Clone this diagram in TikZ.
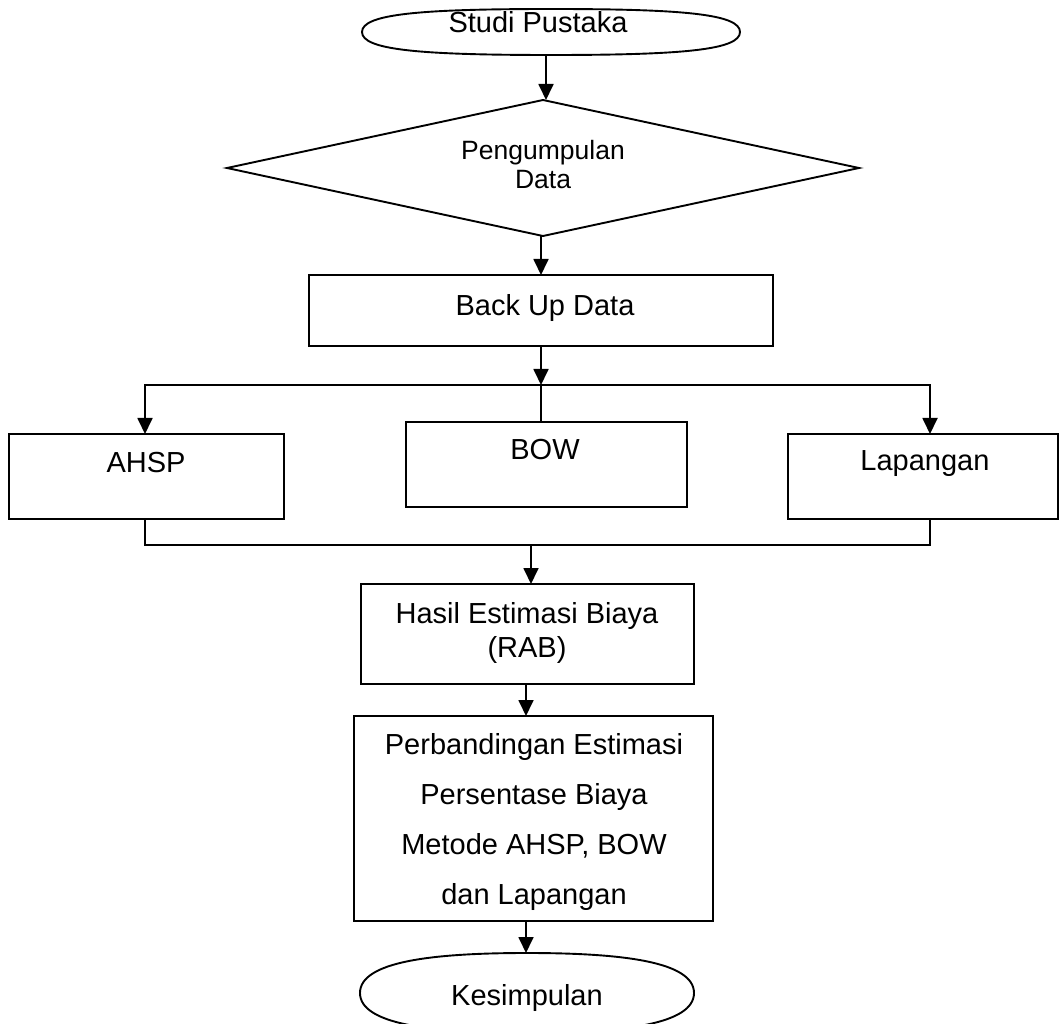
\documentclass[tikz,border=0pt]{standalone}
\usepackage{fontspec}
\setmainfont{Liberation Sans}
\usetikzlibrary{arrows.meta}
\begin{document}
\begin{tikzpicture}[x=1pt,y=-1pt,
  box/.style={draw, rectangle, inner sep=0pt, outer sep=0pt, line width=1.9pt},
  outline/.style={draw, line width=1.9pt},
  txt/.style={font=\fontsize{29}{35}\selectfont, inner sep=0pt, anchor=base},
  stxt/.style={font=\fontsize{26.5}{29}\selectfont, inner sep=0pt, anchor=base},
  conn/.style={line width=1.8pt},
  arr/.style={conn, -{Triangle[width=15pt,length=16pt]}}]
\useasboundingbox[fill=white] (0,0) rectangle (1061,1024);

% start terminator
\draw[outline] (362,32) .. controls (362,14) and (420,9) .. (551,9)
  .. controls (682,9) and (740,14) .. (740,32)
  .. controls (740,50) and (682,55) .. (551,55)
  .. controls (420,55) and (362,50) .. (362,32) -- cycle;
\node[txt] (studi) at (538,33) {Studi Pustaka};
\coordinate (spS) at (546,55);

% diamond
\draw[outline] (227,168) -- (543,100) -- (859,168) -- (543,236) -- cycle;
\coordinate (dN) at (546,100);
\coordinate (dS) at (541,236);
\node[stxt] (peng1) at (543,160) {Pengumpulan};
\node[stxt] (peng2) at (543,189) {Data};

% boxes
\node[box, minimum width=464pt, minimum height=71pt] (backup) at (541,310.5) {};
\node[txt] (backupt) at (545,316) {Back Up Data};

\node[box, minimum width=275pt, minimum height=85pt] (ahsp) at (146.5,476.5) {};
\node[txt] (ahspt) at (146,472) {AHSP};
\node[box, minimum width=281pt, minimum height=85pt] (bow) at (546.5,464.5) {};
\node[txt] (bowt) at (545,460) {BOW};
\node[box, minimum width=270pt, minimum height=85pt] (lap) at (923,476.5) {};
\node[txt] (lapt) at (925,470) {Lapangan};

\node[box, minimum width=333pt, minimum height=100pt] (hasil) at (527.5,634) {};
\node[txt] (hasil1) at (527,623) {Hasil Estimasi Biaya};
\node[txt] (hasil2) at (527,657) {(RAB)};

\node[box, minimum width=359pt, minimum height=205pt] (perb) at (533.5,818.5) {};
\node[txt] (perb1) at (534,754) {Perbandingan Estimasi};
\node[txt] (perb2) at (534,804) {Persentase Biaya};
\node[txt] (perb3) at (534,854) {Metode AHSP, BOW};
\node[txt] (perb4) at (534,904) {dan Lapangan};

% end terminator
\draw[outline] (360,993) .. controls (360,962) and (430,953) .. (527,953)
  .. controls (624,953) and (694,962) .. (694,993)
  .. controls (694,1024) and (624,1033) .. (527,1033)
  .. controls (430,1033) and (360,1024) .. (360,993) -- cycle;
\node[txt] (kes) at (527,1005) {Kesimpulan};
\coordinate (kesN) at (526,953);

% junctions
\coordinate (j1) at (541,385);
\coordinate (j2) at (531,545);
\coordinate (ahspIn) at (145,434);
\coordinate (ahspOut) at (145,519);
\coordinate (lapIn) at (930,434);
\coordinate (lapOut) at (930,519);
\coordinate (hasilOut) at (526,684);
\coordinate (perbIn) at (526,716);
\coordinate (perbOut) at (526,921);

% connectors
\draw[arr] (spS) -- (dN);
\draw[arr] (dS) -- (dS |- backup.north);
\draw[arr] (backup.south -| j1) -- (j1);
\draw[arr] (j1) -| (ahspIn);
\draw[arr] (j1) -| (lapIn);
\draw[conn] (j1) -- (j1 |- bow.north);
\draw[conn] (ahspOut) |- (j2) -| (lapOut);
\draw[arr] (j2) -- (j2 |- hasil.north);
\draw[arr] (hasilOut) -- (perbIn);
\draw[arr] (perbOut) -- (kesN);
\end{tikzpicture}
\end{document}
